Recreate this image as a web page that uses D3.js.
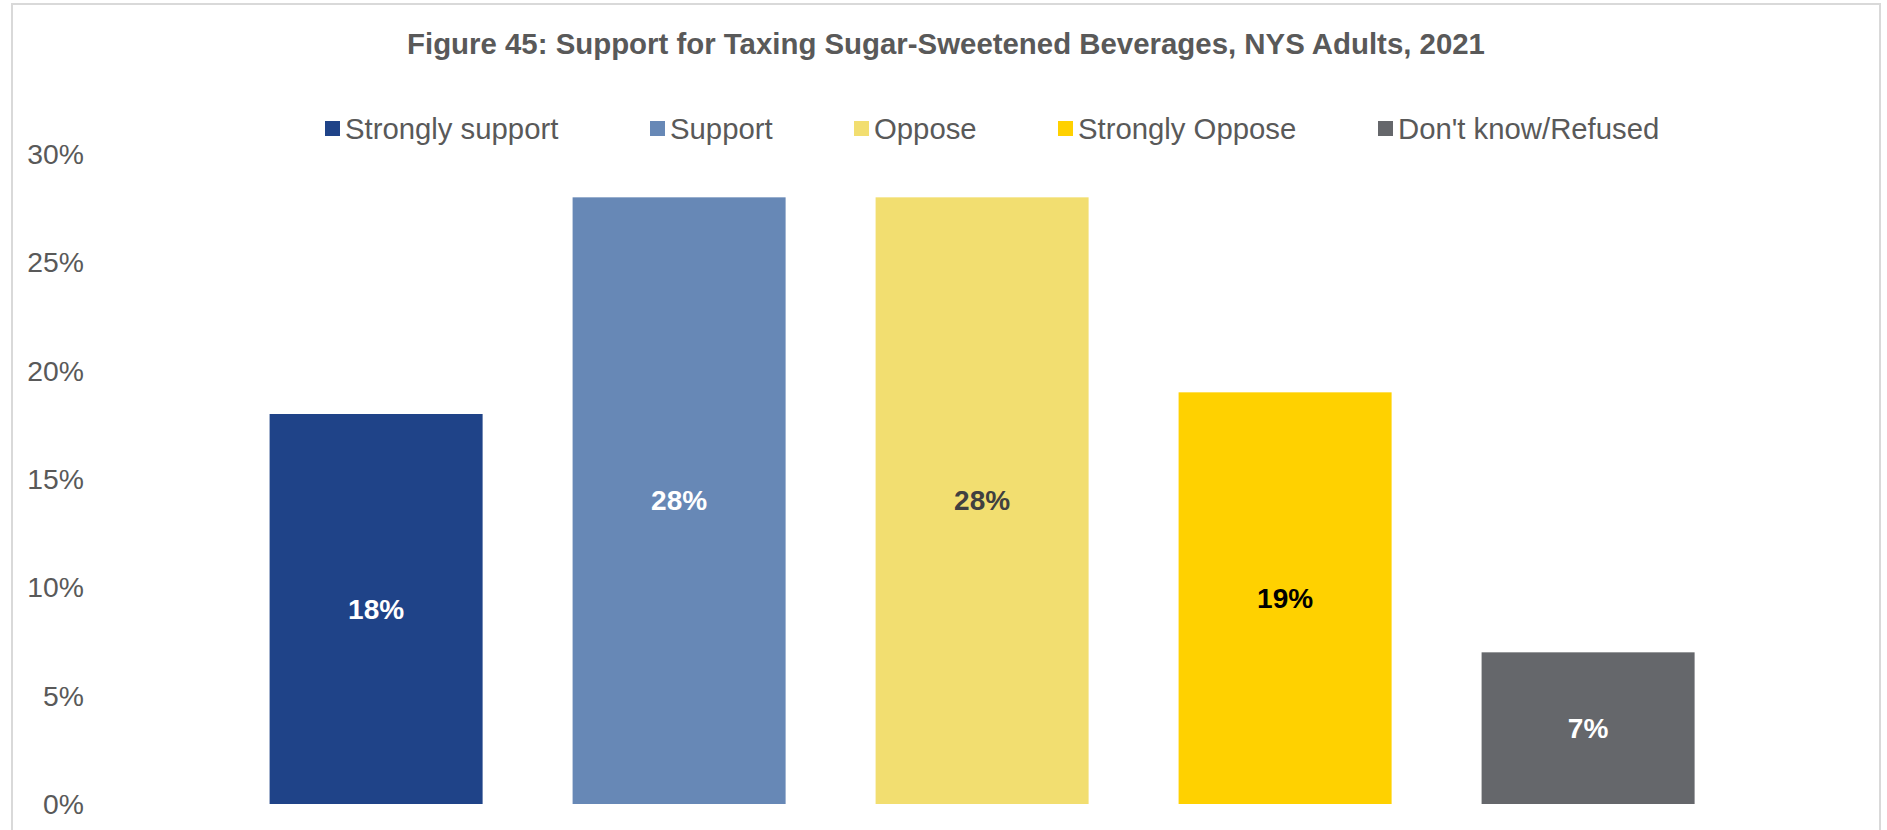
<!DOCTYPE html>
<html><head><meta charset="utf-8">
<script src="https://cdn.jsdelivr.net/npm/d3@7"></script>
<style>
html,body{margin:0;padding:0;background:#fff;}
svg text{font-family:"Liberation Sans",Arial,sans-serif;}
</style></head>
<body>
<svg id="chart" width="1887" height="830"></svg>
<script>
const categories = ["Strongly support","Support","Oppose","Strongly Oppose","Don't know/Refused"];
const values = [18, 28, 28, 19, 7];
const colors = ["#1F4388","#6788B6","#F2DE70","#FFD100","#65676B"];
const labelColors = ["#FFFFFF","#FFFFFF","#404040","#000000","#FFFFFF"];
const yTicks = [0,5,10,15,20,25,30];
const title = "Figure 45: Support for Taxing Sugar-Sweetened Beverages, NYS Adults, 2021";

const svg = d3.select("#chart");
svg.append("rect").attr("x",12).attr("y",4).attr("width",1868).attr("height",840)
  .attr("fill","#fff").attr("stroke","#D9D9D9").attr("stroke-width",2);

svg.append("text").attr("x",946).attr("y",54).attr("text-anchor","middle")
  .attr("font-size",29.4).attr("font-weight","bold").attr("fill","#595959").text(title);

const x = d3.scaleBand().domain(categories).range([224.6,1739.6]).paddingInner(0.297).paddingOuter(0.1485);
const y = d3.scaleLinear().domain([0,30]).range([804,154]);

const yAxis = d3.axisLeft(y).tickValues(yTicks).tickFormat(d=>d+"%").tickSize(0).tickPadding(0);
const ga = svg.append("g").attr("transform","translate(84,0)").call(yAxis);
ga.select(".domain").remove();
ga.selectAll("text").attr("font-size",28.3).attr("fill","#595959").attr("dy","0.33em")
  .style("font-family",'"Liberation Sans",Arial,sans-serif');

svg.selectAll("rect.bar").data(values).join("rect").attr("class","bar")
  .attr("x",(d,i)=>x(categories[i])).attr("width",x.bandwidth())
  .attr("y",d=>y(d)).attr("height",d=>y(0)-y(d)).attr("fill",(d,i)=>colors[i]);

svg.selectAll("text.lbl").data(values).join("text").attr("class","lbl")
  .attr("x",(d,i)=>x(categories[i])+x.bandwidth()/2)
  .attr("y",d=>(y(d)+y(0))/2).attr("dy","0.35em").attr("text-anchor","middle")
  .attr("font-size",28).attr("font-weight","bold").attr("fill",(d,i)=>labelColors[i])
  .text(d=>d+"%");

const legX = [325,650,854,1058,1378];
const lg = svg.selectAll("g.leg").data(categories).join("g").attr("class","leg")
  .attr("transform",(d,i)=>`translate(${legX[i]},0)`);
lg.append("rect").attr("x",0).attr("y",121).attr("width",15).attr("height",15).attr("fill",(d,i)=>colors[i]);
lg.append("text").attr("x",20).attr("y",128.5).attr("dy","0.35em").attr("font-size",29.3).attr("fill","#595959").text(d=>d);
</script>
</body></html>
